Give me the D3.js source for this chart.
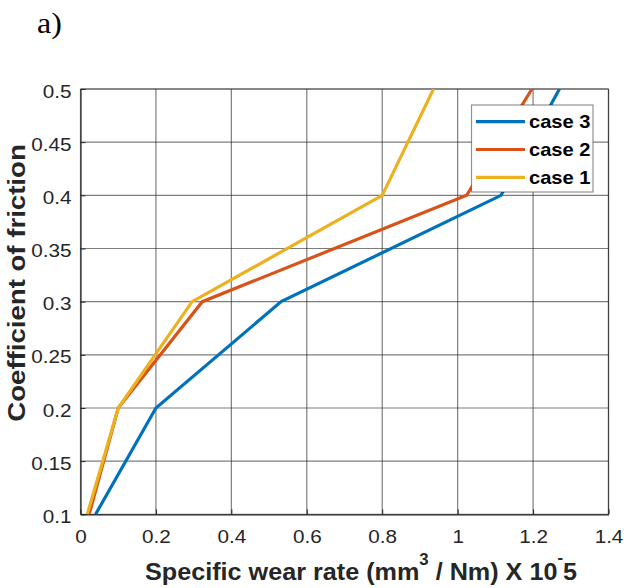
<!DOCTYPE html>
<html><head><meta charset="utf-8">
<script src="https://cdn.jsdelivr.net/npm/d3@7"></script>
<style>body{margin:0;background:#fff}svg{display:block}</style>
</head><body>
<script>
const seriesNames = ["case 3", "case 2", "case 1"];
const case3 = [[0.04,0.1],[0.2,0.2],[0.532,0.3],[1.115,0.4],[1.27,0.5]];
const case2 = [[0.023,0.1],[0.1,0.2],[0.323,0.3],[1.024,0.4],[1.197,0.5]];
const case1 = [[0.018,0.1],[0.1,0.2],[0.296,0.3],[0.8,0.4],[0.936,0.5]];
const colors = ["#0072BD", "#D95319", "#EDB120"];
const xTicks = [0,0.2,0.4,0.6,0.8,1,1.2,1.4];
const yTicks = [0.1,0.15,0.2,0.25,0.3,0.35,0.4,0.45,0.5];

const W=624,H=588, SX=1.15;
const svg=d3.select("body").append("svg").attr("width",W).attr("height",H);
const L=80.5,R=608.5,T=89,B=514.3;
const x=d3.scaleLinear().domain([0,1.4]).range([L,R]);
const y=d3.scaleLinear().domain([0.1,0.5]).range([B,T]);
const font="'Liberation Sans', Arial, sans-serif";

// grid
const g=svg.append("g");
g.selectAll("line.vx").data(xTicks).join("line")
 .attr("x1",d=>x(d)).attr("x2",d=>x(d)).attr("y1",T).attr("y2",B)
 .attr("stroke","#262626").attr("stroke-opacity",0.6).attr("stroke-width",1.2);
g.selectAll("line.hy").data(yTicks).join("line")
 .attr("y1",d=>y(d)).attr("y2",d=>y(d)).attr("x1",L).attr("x2",R)
 .attr("stroke","#262626").attr("stroke-opacity",0.6).attr("stroke-width",1.2);

// axes
const xa=svg.append("g").attr("transform",`translate(0,${B})`)
 .call(d3.axisBottom(x).tickValues(xTicks).tickFormat(d3.format("~g")).tickSizeInner(-5).tickSizeOuter(0).tickPadding(16));
const ya=svg.append("g").attr("transform",`translate(${L},0)`)
 .call(d3.axisLeft(y).tickValues(yTicks).tickFormat(d3.format("~g")).tickSizeInner(-5).tickSizeOuter(0).tickPadding(9));
[xa,ya].forEach(a=>{
  a.select(".domain").attr("stroke","#262626").attr("stroke-width",1.2);
  a.selectAll(".tick line").attr("stroke","#262626");
  a.selectAll("text").attr("font-family",font).attr("font-size",18).attr("fill","#262626");
});
xa.selectAll("text").attr("dy","0.71em").attr("transform",`scale(${SX},1)`);
ya.selectAll("text").attr("dy","0.45em").attr("x",-9/SX).attr("transform",`scale(${SX},1)`);

// box top/right
svg.append("line").attr("x1",L).attr("x2",R).attr("y1",T).attr("y2",T).attr("stroke","#262626").attr("stroke-opacity",0.7).attr("stroke-width",1.2);
svg.append("line").attr("x1",R).attr("x2",R).attr("y1",T).attr("y2",B).attr("stroke","#262626").attr("stroke-opacity",0.7).attr("stroke-width",1.2);

// clip
svg.append("clipPath").attr("id","clip").append("rect").attr("x",L).attr("y",T).attr("width",R-L).attr("height",B-T);
const line=d3.line().x(d=>x(d[0])).y(d=>y(d[1]));
const data=[case3,case2,case1];
svg.append("g").attr("clip-path","url(#clip)").selectAll("path").data(data).join("path")
 .attr("d",line).attr("fill","none").attr("stroke",(d,i)=>colors[i]).attr("stroke-width",3.2).attr("stroke-linejoin","miter");

// legend
const lg=svg.append("g");
lg.append("rect").attr("x",471.5).attr("y",105).attr("width",121.5).attr("height",87)
 .attr("fill","#fff").attr("stroke","#262626").attr("stroke-opacity",0.5).attr("stroke-width",1.2);
seriesNames.forEach((n,i)=>{
  const yy=121.7+i*27.8;
  lg.append("line").attr("x1",476).attr("x2",525).attr("y1",yy).attr("y2",yy).attr("stroke",colors[i]).attr("stroke-width",3.2);
  lg.append("text").attr("transform",`translate(529,${yy}) scale(${SX},1)`).attr("dy","0.36em")
   .attr("font-family",font).attr("font-weight","bold").attr("font-size",17.5).text(n);
});

// axis labels
const xl=svg.append("text").attr("transform",`translate(361,580) scale(1.05,1)`).attr("text-anchor","middle")
 .attr("font-family",font).attr("font-weight","bold").attr("font-size",24).attr("fill","#262626");
xl.append("tspan").text("Specific wear rate (mm");
xl.append("tspan").attr("font-size",16).attr("dy",-15).text("3");
xl.append("tspan").attr("dy",15).text(" / Nm) X 10");
xl.append("tspan").attr("font-size",16).attr("dy",-17).text("-");
xl.append("tspan").attr("dy",17).text("5");

svg.append("text").attr("transform",`translate(25,283) rotate(-90) scale(${SX},1)`).attr("text-anchor","middle")
 .attr("font-family",font).attr("font-weight","bold").attr("font-size",24).attr("fill","#262626")
 .text("Coefficient of friction");

svg.append("text").attr("transform",`translate(37,33) scale(1.1,1)`).attr("font-family","'Liberation Serif', 'Times New Roman', serif")
 .attr("font-size",29).text("a)");
</script>
</body></html>
